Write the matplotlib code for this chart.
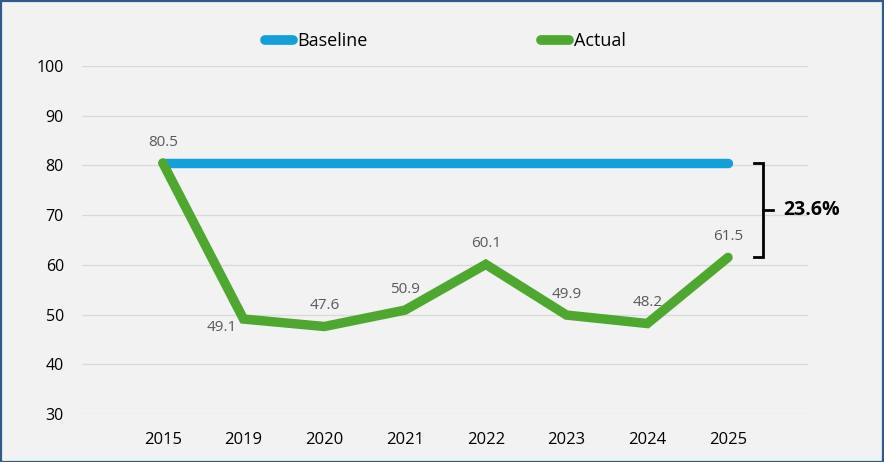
import matplotlib
matplotlib.use("Agg")
import matplotlib.pyplot as plt
from matplotlib.patches import Rectangle

years = ["2015", "2019", "2020", "2021", "2022", "2023", "2024", "2025"]
baseline = [80.5] * len(years)
actual = [80.5, 49.1, 47.6, 50.9, 60.1, 49.9, 48.2, 61.5]
change_label = "23.6%"

BLUE = "#139fd9"
GREEN = "#4ea72e"
BG = "#f2f2f2"

plt.rcParams["font.family"] = ["Open Sans", "DejaVu Sans"]

fig = plt.figure(figsize=(8.84, 4.62), dpi=100, facecolor=BG)
ax = fig.add_axes([82 / 884, 48 / 462, 726 / 884, 348 / 462], facecolor=BG)

x = list(range(len(years)))
ax.plot(x, baseline, color=BLUE, lw=6.8, solid_capstyle="round", label="Baseline", zorder=3)
ax.plot(x, actual, color=GREEN, lw=6.8, solid_capstyle="round",
        solid_joinstyle="miter", label="Actual", zorder=4)

# data labels on the actual series; the 2019 one sits below-left of its point
for i, v in enumerate(actual):
    off = (-16, -6) if i == 1 else (0, 15)
    ax.annotate(f"{v}", (i, v), xytext=off, textcoords="offset points",
                ha="center", va="center", fontsize=11, color="#595959", zorder=5)

ax.set_xlim(-1, 7.99)
ax.set_ylim(30, 100)
ax.set_yticks(range(30, 101, 10))
ax.set_xticks(x)
ax.set_xticklabels(years)
ax.grid(axis="y", color="#d9d9d9", lw=0.9)
ax.set_axisbelow(True)
for s in ax.spines.values():
    s.set_visible(False)
ax.tick_params(length=0, colors="black")
ax.tick_params(axis="x", pad=13, labelsize=12)
ax.tick_params(axis="y", pad=13, labelsize=11.5)

# bracket showing the gap between baseline and last actual value
bx = 7.43
top, bot = baseline[-1], actual[-1]
mid = (top + bot) / 2
ax.plot([bx - 0.11, bx, bx, bx - 0.11], [top, top, bot, bot], color="black",
        lw=2, clip_on=False, solid_joinstyle="miter")
ax.plot([bx, bx + 0.125], [mid, mid], color="black", lw=2, clip_on=False)
ax.text(bx + 0.25, mid, change_label, ha="left", va="center", fontsize=14,
        fontweight="bold", color="black", clip_on=False)

leg = fig.legend(loc="center left", bbox_to_anchor=(256 / 884, 1 - 41 / 462), ncol=2,
                 frameon=False, borderpad=0, prop={"size": 13},
                 handlelength=1.55, handletextpad=0.25, columnspacing=9.6)
for line in leg.get_lines():
    line.set_linewidth(7)
    line.set_solid_capstyle("round")

fig.patches.append(Rectangle((0.001, 0.001), 0.998, 0.997, transform=fig.transFigure,
                             fill=False, edgecolor="#2e5a8c", lw=1.6))

fig.savefig("out.png", dpi=100, facecolor=BG)
